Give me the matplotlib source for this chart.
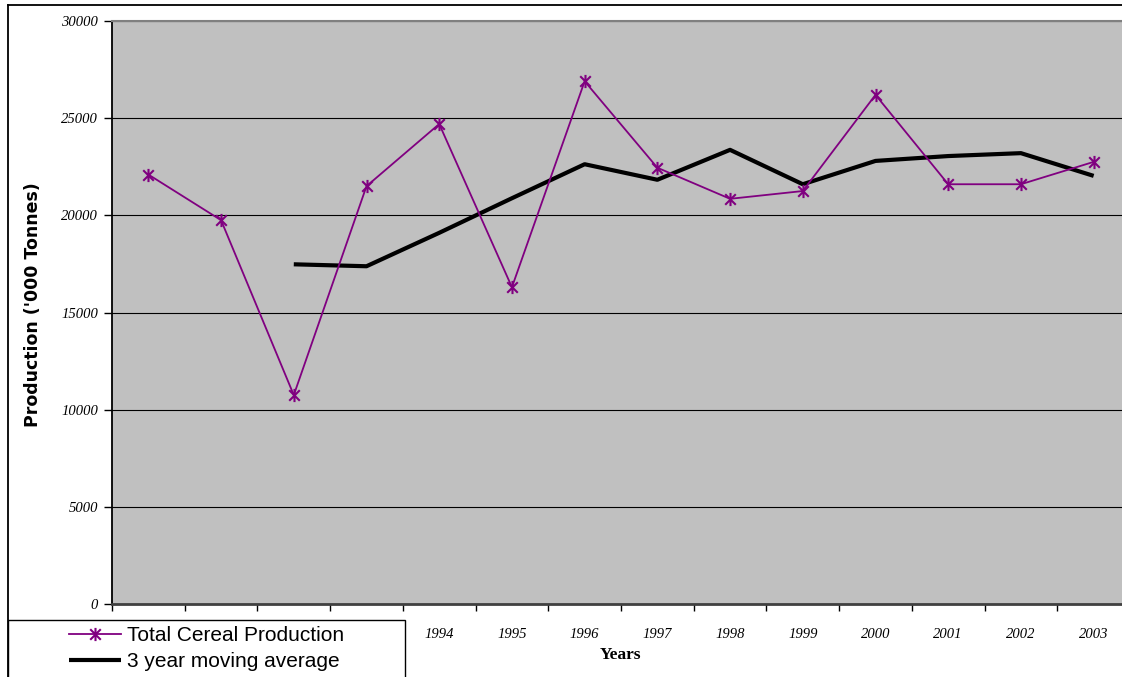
import numpy as np
import matplotlib
matplotlib.use("Agg")
import matplotlib.pyplot as plt
from matplotlib.path import Path
from matplotlib.patches import Rectangle
from matplotlib.lines import Line2D

# values
years = ['1990', '1991', '1992', '1993', '1994', '1995', '1996',
         '1997', '1998', '1999', '2000', '2001', '2002', '2003']
production = [22100, 19750, 10750, 21500, 24700, 16300, 26900,
              22450, 20850, 21250, 26200, 21600, 21600, 22750]
moving_avg = [np.nan, np.nan, 17480, 17380, 19100, 20880, 22630,
              21830, 23370, 21600, 22800, 23050, 23200, 22030]
y_ticks = [0, 5000, 10000, 15000, 20000, 25000, 30000]
# the first four year labels sit under the legend box in the original
hidden_labels = 4

W, H = 1122, 677
fig = plt.figure(figsize=(W / 100, H / 100), dpi=100)
fig.patch.set_facecolor('white')

def fx(px):
    return px / W

def fy(py):
    return 1 - py / H

# plot area runs off the right edge like in the original
left, right, top, bottom = 112, 1130, 21, 604
ax = fig.add_axes([fx(left), fy(bottom), fx(right - left), (bottom - top) / H])
ax.set_facecolor('#c0c0c0')

# Excel style star marker: an X with a vertical bar
star = Path([(-1, -1), (1, 1), (-1, 1), (1, -1), (0, -1.25), (0, 1.25)],
            [Path.MOVETO, Path.LINETO, Path.MOVETO, Path.LINETO, Path.MOVETO, Path.LINETO])

x = np.arange(len(years))
l1, = ax.plot(x, production, color='#800080', lw=1.3, marker=star, ms=9.5, mew=1.5,
              label='Total Cereal Production', zorder=3)
l2, = ax.plot(x, moving_avg, color='black', lw=3.0, solid_capstyle='butt',
              label='3 year moving average', zorder=2)

ax.set_xlim(-0.5, len(years) - 0.5)
ax.set_ylim(0, 30000)

ax.set_yticks(y_ticks)
ax.set_yticklabels([str(v) for v in y_ticks], fontfamily='Liberation Serif',
                   fontstyle='italic', fontsize=10.5)
ax.yaxis.grid(True, color='black', lw=0.8)
ax.set_axisbelow(True)
ax.tick_params(axis='y', direction='out', length=6, width=1, pad=4)

# tick marks between categories, labels in the middle
ax.set_xticks(np.arange(-0.5, len(years), 1.0))
ax.set_xticklabels([])
ax.set_xticks(x, minor=True)
shown = [''] * hidden_labels + years[hidden_labels:]
ax.set_xticklabels(shown, minor=True, fontfamily='Liberation Serif',
                   fontstyle='italic', fontsize=10.5)
ax.tick_params(axis='x', which='major', direction='out', length=5, width=1)
ax.tick_params(axis='x', which='minor', length=0, pad=17)

ax.spines['left'].set_color('black')
ax.spines['left'].set_linewidth(1.3)
ax.spines['bottom'].set_color('#404040')
ax.spines['bottom'].set_linewidth(2)
ax.spines['top'].set_color('#808080')
ax.spines['top'].set_linewidth(1.5)
ax.spines['right'].set_visible(False)

fig.text(fx(33), fy(305), "Production ('000 Tonnes)", rotation=90,
         ha='center', va='center', fontfamily='DejaVu Sans', fontweight='bold', fontsize=12.5)
fig.text(fx(621), fy(655), 'Years', ha='center', va='center',
         fontfamily='Liberation Serif', fontweight='bold', fontsize=12.5)

# outer chart frame (cut by the image edges)
fig.add_artist(Line2D([fx(8), 1.0], [fy(5), fy(5)], color='black', lw=1.3))
fig.add_artist(Line2D([fx(8), fx(8)], [fy(5), 0.0], color='black', lw=1.3))

# legend box sitting over the first category labels
fig.add_artist(Rectangle((fx(8), fy(700)), fx(405 - 8), (700 - 620) / H,
                         facecolor='white', edgecolor='black', lw=1.0, zorder=4))
fig.legend(handles=[l1, l2], labels=[l1.get_label(), l2.get_label()],
           loc='upper left', bbox_to_anchor=(fx(69), fy(626)), frameon=False,
           borderpad=0, borderaxespad=0, handlelength=2.5, handletextpad=0.3,
           labelspacing=0.35, prop={'family': 'Liberation Sans', 'size': 15})

fig.savefig('out.png', dpi=100)
